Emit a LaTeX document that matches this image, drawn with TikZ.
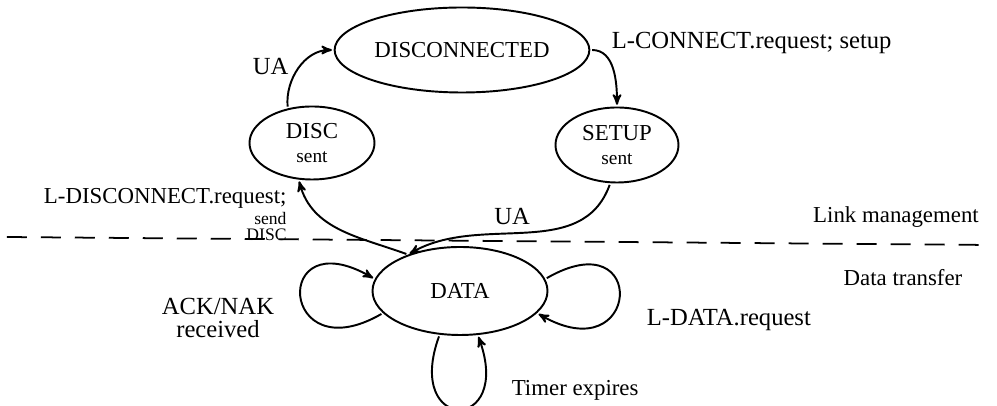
\documentclass[tikz,border=0pt]{standalone}
\usepackage{fontspec}
\setmainfont{Liberation Serif}
\usetikzlibrary{positioning,arrows,calc,shapes}
\tikzset{->,>=stealth',
shorten >=1pt,shorten <=1pt,
auto,
st/.style={ellipse,draw,inner sep=0.5mm,align=center,font=\fontsize{13}{14}\selectfont},
el/.style={font=\fontsize{14}{13}\selectfont},
tl/.style={font=\fontsize{13}{14}\selectfont},
loopleft/.style={out=210,in=150,distance=2.4cm},
loopright/.style={out=30,in=-30,distance=2.4cm},
loopbelow/.style={out=250,in=290,distance=2.1cm},
sep/.style={-,dash pattern=on 0.4cm off 0.28cm,line width=1pt},
}
\begin{document}
\begin{tikzpicture}[line width=1.1pt]
\useasboundingbox (0,0) rectangle (19.94,8.12);
\node[st,minimum width=4.1cm,minimum height=1.7cm] (disconn) at (9.24,7.12) {DISCONNECTED};
\node[st,minimum width=2.5cm,minimum height=1.46cm] (discsent) at (6.24,5.26) {DISC\\{\fontsize{11}{12}\selectfont sent}};
\node[st,minimum width=2.46cm,minimum height=1.5cm] (setupsent) at (12.34,5.22) {SETUP\\{\fontsize{11}{12}\selectfont sent}};
\node[st,minimum width=3.5cm,minimum height=1.76cm] (data) at (9.2,2.3) {DATA};

\coordinate (sepl) at (0.1,3.38);
\coordinate (sepr) at (19.8,3.22);
\draw[sep] (sepl) -- (sepr);

\path
(discsent.125) edge[out=95,in=180] node[el,pos=0.35,above left=-2pt] {UA} (disconn)
(disconn) edge[out=0,in=90] (setupsent)
(setupsent.260) edge[out=250,in=30] node[el,swap,pos=0.45] {UA} (data.145)
(data.145) edge[out=160,in=-75] (discsent.250)
(data.196) edge[loopleft] (data.172)
(data.8) edge[loopright] (data.344)
(data.245) edge[loopbelow] (data.292)
;

\node[el,anchor=north east,align=right,inner sep=0.5mm,font=\fontsize{13}{13}\selectfont] (ldisc) at (5.8,4.42) {L-DISCONNECT.request;\\[-1pt]{\fontsize{10}{10}\selectfont send}\\[-4pt]{\fontsize{10}{10}\selectfont DISC}};
\node[el,anchor=west] (lconn) at (12.1,7.26) {L-CONNECT.request; setup};
\node[el,align=center] (acknak) at (4.36,1.76) {ACK/NAK\\received};
\node[el,anchor=west] (ldata) at (12.8,1.72) {L-DATA.request};
\node[tl,anchor=west] (timer) at (10.1,0.32) {Timer expires};
\node[tl] (linkm) at (17.92,3.78) {Link management};
\node[tl] (datat) at (18.06,2.56) {Data transfer};
\end{tikzpicture}
\end{document}
